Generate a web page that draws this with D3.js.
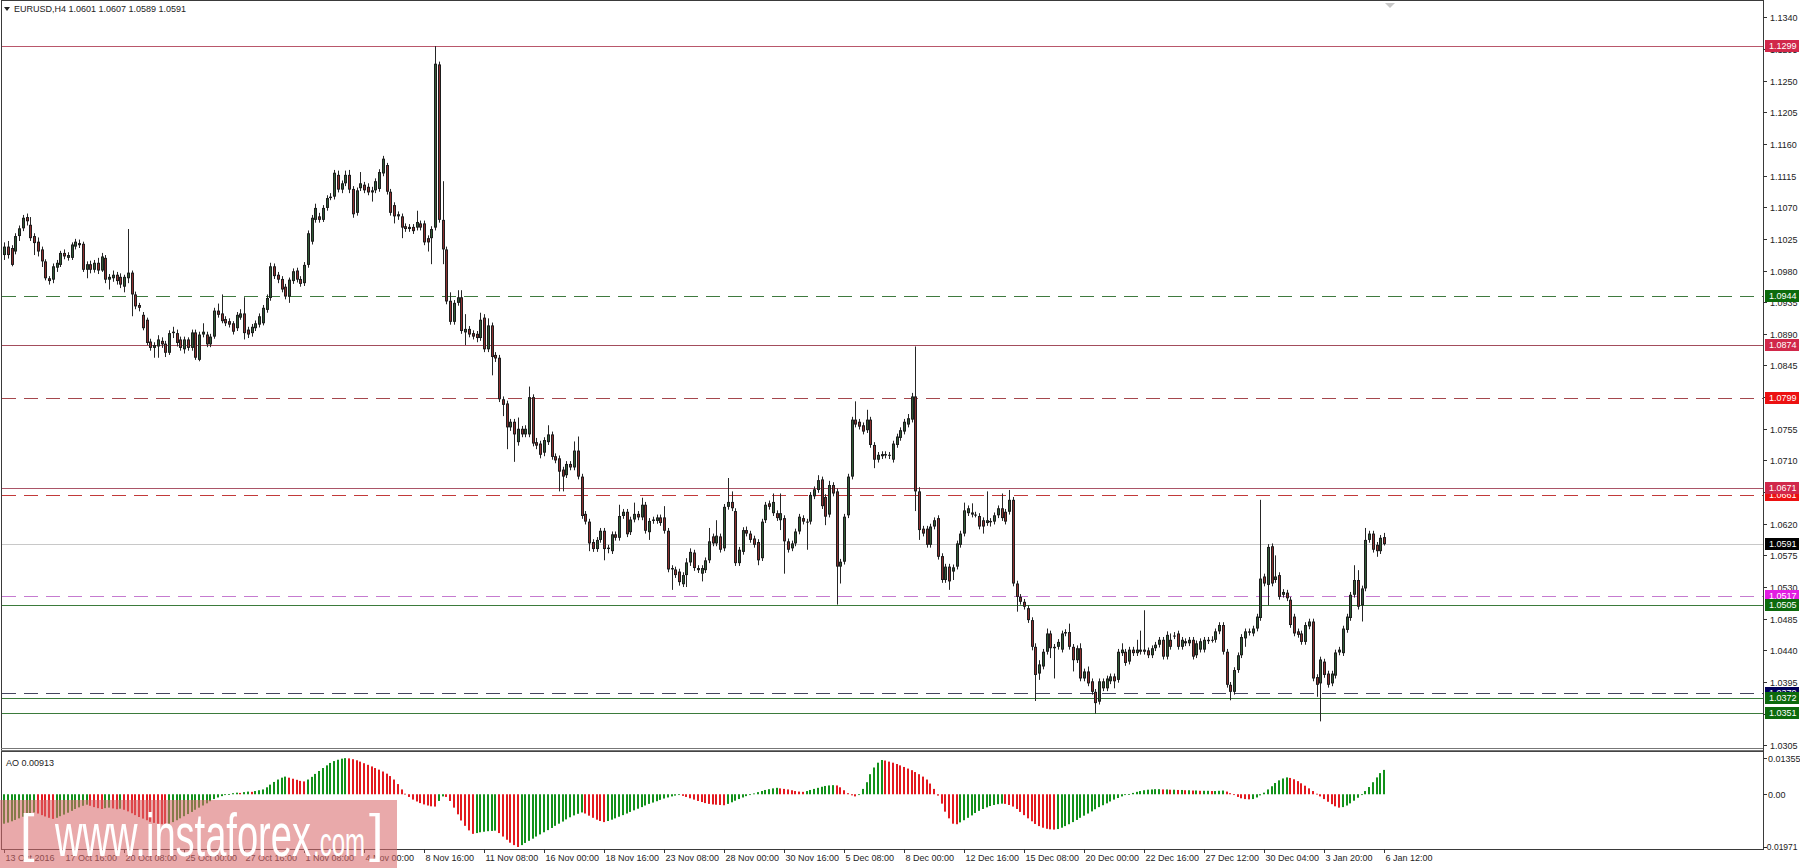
<!DOCTYPE html>
<html><head><meta charset="utf-8">
<script src="https://cdn.jsdelivr.net/npm/d3@7"></script>
<style>html,body{margin:0;padding:0;background:#fff;}svg{display:block;}</style>
</head><body>
<svg id="chart" width="1800" height="868"></svg>
<script>
// ---------------- DATA ----------------
const symbolTitle = "EURUSD,H4  1.0601 1.0607 1.0589 1.0591";
const aoTitle = "AO 0.00913";
// H4 candles: [open, high, low, close]
const candles = [
[1.1002,1.1020,1.0995,1.1014],[1.1014,1.1022,1.0997,1.1002],[1.1012,1.1016,1.0986,1.0988],[1.1007,1.1033,1.1003,1.1029],
[1.1029,1.1044,1.1022,1.1040],[1.1040,1.1059,1.1036,1.1055],[1.1056,1.1061,1.1044,1.1050],[1.1045,1.1056,1.1022,1.1026],
[1.1029,1.1033,1.1002,1.1019],[1.1021,1.1027,1.1000,1.1007],[1.1010,1.1014,1.0985,1.0993],[1.0993,1.0996,1.0966,1.0969],
[1.0969,1.0972,1.0960,1.0965],[1.0967,1.0990,1.0962,1.0986],[1.0984,1.0995,1.0978,1.0991],[1.0988,1.1008,1.0985,1.1005],
[1.1005,1.1010,1.0996,1.1000],[1.0998,1.1006,1.0994,1.1002],[1.0998,1.1020,1.0995,1.1017],[1.1014,1.1025,1.1010,1.1021],
[1.1019,1.1024,1.1012,1.1016],[1.1018,1.1021,1.0978,1.0981],[1.0981,1.0993,1.0969,1.0989],[1.0989,1.0994,1.0976,1.0981],
[1.0981,1.0995,1.0977,1.0991],[1.0991,1.0998,1.0975,1.0980],[1.0980,1.1005,1.0978,1.1000],[1.0998,1.1002,1.0962,1.0967],
[1.0967,1.0975,1.0953,1.0971],[1.0969,1.0980,1.0964,1.0974],[1.0974,1.0978,1.0960,1.0965],[1.0971,1.0976,1.0955,1.0960],
[1.0957,1.0974,1.0949,1.0971],[1.0969,1.1039,1.0962,1.0977],[1.0977,1.0980,1.0915,1.0946],[1.0946,1.0950,1.0925,1.0929],
[1.0931,1.0934,1.0922,1.0927],[1.0917,1.0921,1.0895,1.0898],[1.0910,1.0913,1.0874,1.0877],[1.0879,1.0883,1.0866,1.0870],
[1.0870,1.0878,1.0856,1.0874],[1.0872,1.0888,1.0856,1.0882],[1.0880,1.0885,1.0870,1.0875],[1.0876,1.0880,1.0857,1.0863],
[1.0863,1.0895,1.0860,1.0891],[1.0891,1.0900,1.0884,1.0893],[1.0891,1.0896,1.0872,1.0877],[1.0882,1.0886,1.0866,1.0870],
[1.0868,1.0886,1.0862,1.0882],[1.0882,1.0885,1.0866,1.0870],[1.0870,1.0896,1.0866,1.0892],[1.0892,1.0896,1.0853,1.0856],
[1.0853,1.0893,1.0851,1.0889],[1.0889,1.0905,1.0885,1.0893],[1.0889,1.0893,1.0871,1.0875],[1.0875,1.0890,1.0871,1.0886],
[1.0886,1.0927,1.0883,1.0923],[1.0923,1.0933,1.0913,1.0917],[1.0919,1.0946,1.0905,1.0908],[1.0911,1.0915,1.0901,1.0905],
[1.0908,1.0912,1.0899,1.0903],[1.0905,1.0908,1.0889,1.0893],[1.0898,1.0921,1.0894,1.0917],[1.0913,1.0925,1.0910,1.0919],
[1.0919,1.0942,1.0882,1.0891],[1.0896,1.0900,1.0884,1.0889],[1.0891,1.0904,1.0886,1.0900],[1.0898,1.0909,1.0894,1.0905],
[1.0903,1.0919,1.0899,1.0915],[1.0905,1.0931,1.0902,1.0927],[1.0924,1.0946,1.0920,1.0941],[1.0941,1.0991,1.0937,1.0986],
[1.0986,1.0990,1.0968,1.0972],[1.0974,1.0978,1.0962,1.0967],[1.0968,1.0972,1.0949,1.0953],[1.0957,1.0961,1.0939,1.0943],
[1.0943,1.0970,1.0934,1.0967],[1.0965,1.0983,1.0961,1.0979],[1.0980,1.0984,1.0963,1.0967],[1.0968,1.0972,1.0957,1.0961],
[1.0962,1.0992,1.0958,1.0988],[1.0988,1.1037,1.0984,1.1033],[1.1021,1.1059,1.1017,1.1055],[1.1052,1.1075,1.1048,1.1069],
[1.1057,1.1062,1.1048,1.1052],[1.1052,1.1073,1.1049,1.1069],[1.1069,1.1087,1.1065,1.1083],[1.1083,1.1090,1.1080,1.1085],
[1.1085,1.1123,1.1081,1.1119],[1.1116,1.1122,1.1091,1.1095],[1.1095,1.1108,1.1090,1.1104],[1.1104,1.1122,1.1100,1.1116],
[1.1116,1.1123,1.1090,1.1095],[1.1096,1.1100,1.1055,1.1060],[1.1062,1.1098,1.1058,1.1094],[1.1097,1.1120,1.1093,1.1104],
[1.1102,1.1106,1.1090,1.1094],[1.1099,1.1104,1.1087,1.1091],[1.1091,1.1099,1.1078,1.1094],
[1.1094,1.1111,1.1090,1.1107],[1.1096,1.1124,1.1092,1.1120],[1.1118,1.1143,1.1114,1.1139],[1.1130,1.1133,1.1088,1.1092],
[1.1092,1.1096,1.1058,1.1062],[1.1073,1.1077,1.1047,1.1057],[1.1060,1.1064,1.1052,1.1057],[1.1057,1.1061,1.1026,1.1041],
[1.1043,1.1047,1.1035,1.1039],[1.1039,1.1046,1.1035,1.1042],[1.1042,1.1046,1.1032,1.1036],[1.1041,1.1065,1.1037,1.1049],
[1.1047,1.1051,1.1037,1.1041],[1.1047,1.1051,1.1016,1.1020],[1.1026,1.1030,1.1007,1.1020],[1.1026,1.1043,1.0989,1.1039],
[1.1041,1.1299,1.1037,1.1274],[1.1273,1.1277,1.1048,1.1052],[1.1052,1.1107,1.0989,1.1010],[1.1010,1.1014,1.0932,1.0936],
[1.0937,1.0949,1.0903,1.0907],[1.0907,1.0938,1.0903,1.0934],[1.0934,1.0952,1.0930,1.0942],[1.0942,1.0952,1.0890,1.0894],
[1.0892,1.0918,1.0874,1.0897],[1.0897,1.0901,1.0885,1.0889],[1.0891,1.0895,1.0882,1.0886],[1.0890,1.0894,1.0878,1.0884],
[1.0884,1.0920,1.0880,1.0910],[1.0913,1.0918,1.0864,1.0868],[1.0868,1.0912,1.0864,1.0902],[1.0902,1.0906,1.0831,1.0857],
[1.0860,1.0864,1.0850,1.0855],[1.0856,1.0860,1.0793,1.0797],[1.0797,1.0801,1.0773,1.0789],[1.0791,1.0795,1.0726,1.0757],
[1.0757,1.0769,1.0752,1.0765],[1.0765,1.0769,1.0708,1.0747],[1.0736,1.0771,1.0731,1.0755],[1.0755,1.0759,1.0743,1.0747],
[1.0747,1.0760,1.0743,1.0755],[1.0747,1.0815,1.0743,1.0800],[1.0800,1.0804,1.0730,1.0734],[1.0736,1.0742,1.0726,1.0731],
[1.0734,1.0738,1.0713,1.0718],[1.0721,1.0743,1.0716,1.0739],[1.0736,1.0760,1.0732,1.0747],[1.0747,1.0751,1.0711,1.0715],
[1.0716,1.0720,1.0706,1.0710],[1.0713,1.0717,1.0666,1.0694],[1.0697,1.0701,1.0666,1.0687],[1.0689,1.0709,1.0685,1.0705],
[1.0705,1.0709,1.0696,1.0700],[1.0700,1.0737,1.0696,1.0724],[1.0724,1.0744,1.0683,1.0687],[1.0687,1.0691,1.0627,1.0631],
[1.0634,1.0638,1.0619,1.0623],[1.0623,1.0627,1.0581,1.0592],[1.0594,1.0598,1.0580,1.0584],[1.0584,1.0601,1.0580,1.0597],
[1.0597,1.0614,1.0593,1.0610],[1.0610,1.0614,1.0568,1.0584],[1.0586,1.0590,1.0578,1.0584],[1.0581,1.0609,1.0577,1.0605],
[1.0605,1.0609,1.0596,1.0600],[1.0600,1.0647,1.0596,1.0631],[1.0631,1.0641,1.0627,1.0637],[1.0637,1.0641,1.0601,1.0605],
[1.0608,1.0630,1.0604,1.0626],[1.0626,1.0650,1.0622,1.0634],[1.0634,1.0638,1.0625,1.0629],[1.0629,1.0657,1.0625,1.0647],
[1.0647,1.0651,1.0606,1.0610],[1.0608,1.0628,1.0597,1.0624],[1.0624,1.0630,1.0620,1.0626],[1.0624,1.0633,1.0620,1.0629],
[1.0629,1.0633,1.0617,1.0621],[1.0629,1.0645,1.0606,1.0610],[1.0610,1.0614,1.0551,1.0555],[1.0555,1.0561,1.0526,1.0557],
[1.0555,1.0559,1.0543,1.0547],[1.0552,1.0556,1.0532,1.0537],[1.0534,1.0551,1.0530,1.0547],[1.0547,1.0571,1.0530,1.0565],
[1.0565,1.0585,1.0560,1.0580],
[1.0579,1.0583,1.0553,1.0557],[1.0557,1.0561,1.0550,1.0554],[1.0549,1.0561,1.0538,1.0557],[1.0554,1.0572,1.0550,1.0568],
[1.0568,1.0614,1.0564,1.0595],[1.0602,1.0606,1.0588,1.0592],[1.0592,1.0625,1.0588,1.0603],[1.0602,1.0606,1.0579,1.0583],
[1.0585,1.0648,1.0581,1.0644],[1.0644,1.0685,1.0640,1.0651],[1.0651,1.0666,1.0638,1.0642],[1.0638,1.0642,1.0560,1.0564],
[1.0564,1.0587,1.0560,1.0583],[1.0580,1.0615,1.0576,1.0611],[1.0611,1.0616,1.0602,1.0606],[1.0606,1.0610,1.0593,1.0597],
[1.0599,1.0603,1.0586,1.0590],[1.0594,1.0598,1.0561,1.0568],[1.0571,1.0627,1.0567,1.0623],[1.0625,1.0651,1.0621,1.0647],
[1.0649,1.0653,1.0640,1.0644],[1.0635,1.0663,1.0631,1.0651],[1.0635,1.0639,1.0624,1.0628],[1.0625,1.0663,1.0611,1.0635],
[1.0628,1.0632,1.0549,1.0595],[1.0595,1.0599,1.0579,1.0583],[1.0585,1.0596,1.0581,1.0592],[1.0592,1.0613,1.0588,1.0609],
[1.0609,1.0634,1.0605,1.0630],[1.0628,1.0632,1.0619,1.0623],[1.0623,1.0627,1.0583,1.0623],[1.0623,1.0665,1.0619,1.0661],
[1.0659,1.0673,1.0655,1.0669],[1.0668,1.0689,1.0664,1.0682],[1.0683,1.0687,1.0641,1.0645],[1.0658,1.0662,1.0618,1.0630],
[1.0633,1.0681,1.0629,1.0675],[1.0675,1.0679,1.0659,1.0663],[1.0666,1.0670,1.0505,1.0559],[1.0559,1.0570,1.0535,1.0566],
[1.0566,1.0634,1.0562,1.0630],[1.0632,1.0691,1.0628,1.0687],[1.0687,1.0772,1.0683,1.0768],[1.0768,1.0794,1.0757,1.0761],
[1.0765,1.0769,1.0754,1.0758],[1.0760,1.0764,1.0747,1.0751],[1.0753,1.0782,1.0749,1.0768],[1.0768,1.0772,1.0728,1.0732],
[1.0732,1.0736,1.0699,1.0711],[1.0711,1.0722,1.0707,1.0718],[1.0716,1.0723,1.0712,1.0719],[1.0719,1.0723,1.0713,1.0717],
[1.0718,1.0722,1.0712,1.0718],[1.0711,1.0738,1.0707,1.0734],[1.0732,1.0748,1.0728,1.0744],[1.0742,1.0757,1.0738,1.0753],
[1.0751,1.0769,1.0747,1.0765],[1.0761,1.0776,1.0757,1.0770],[1.0768,1.0806,1.0764,1.0801],[1.0801,1.0872,1.0638,1.0666],
[1.0666,1.0672,1.0597,1.0611],[1.0613,1.0617,1.0602,1.0606],[1.0613,1.0617,1.0586,1.0590],[1.0590,1.0620,1.0586,1.0616],
[1.0616,1.0629,1.0612,1.0625],[1.0628,1.0632,1.0569,1.0573],[1.0574,1.0578,1.0536,1.0540],[1.0540,1.0563,1.0536,1.0559],
[1.0559,1.0563,1.0526,1.0538],[1.0552,1.0562,1.0540,1.0558],[1.0559,1.0596,1.0555,1.0592],[1.0590,1.0610,1.0586,1.0606],
[1.0606,1.0650,1.0602,1.0639],[1.0635,1.0646,1.0631,1.0642],[1.0636,1.0649,1.0629,1.0633],[1.0633,1.0637,1.0629,1.0633],
[1.0631,1.0635,1.0612,1.0616],[1.0625,1.0629,1.0606,1.0616],[1.0621,1.0666,1.0617,1.0625],[1.0624,1.0628,1.0616,1.0622],
[1.0623,1.0636,1.0619,1.0632],[1.0632,1.0646,1.0628,1.0642],[1.0642,1.0663,1.0624,1.0628],[1.0637,1.0641,1.0619,1.0623],
[1.0637,1.0668,1.0633,1.0654],[1.0654,1.0658,1.0531,1.0535],[1.0535,1.0539,1.0495,1.0516],[1.0516,1.0520,1.0505,1.0509],
[1.0509,1.0513,1.0498,1.0502],[1.0500,1.0504,1.0479,1.0483],[1.0483,1.0487,1.0440,1.0445],[1.0445,1.0450,1.0368,1.0405],
[1.0407,1.0426,1.0398,1.0420],[1.0417,1.0442,1.0413,1.0438],[1.0438,1.0471,1.0434,1.0464],[1.0464,1.0468,1.0429,1.0443],
[1.0443,1.0449,1.0400,1.0445],[1.0445,1.0456,1.0441,1.0452],[1.0441,1.0468,1.0437,1.0464],[1.0464,1.0470,1.0460,1.0466],
[1.0466,1.0478,1.0441,1.0445],[1.0445,1.0449,1.0410,1.0426],[1.0426,1.0447,1.0422,1.0443],[1.0443,1.0450,1.0396,1.0400],
[1.0400,1.0414,1.0396,1.0410],[1.0410,1.0417,1.0389,1.0393],[1.0396,1.0400,1.0377,1.0381],[1.0381,1.0385,1.0350,1.0365],
[1.0367,1.0400,1.0363,1.0396],[1.0386,1.0400,1.0382,1.0396],[1.0386,1.0404,1.0382,1.0400],[1.0396,1.0407,1.0392,1.0403],
[1.0403,1.0407,1.0386,1.0396],[1.0398,1.0442,1.0394,1.0438],[1.0436,1.0450,1.0432,1.0441],[1.0438,1.0442,1.0418,1.0422],
[1.0424,1.0445,1.0420,1.0441],[1.0441,1.0445,1.0432,1.0436],[1.0436,1.0455,1.0432,1.0441],[1.0438,1.0468,1.0434,1.0441],
[1.0441,1.0497,1.0434,1.0438],[1.0440,1.0444,1.0429,1.0433],[1.0433,1.0447,1.0429,1.0443],[1.0443,1.0452,1.0439,1.0448],
[1.0448,1.0459,1.0444,1.0455],[1.0455,1.0459,1.0427,1.0431],[1.0431,1.0467,1.0427,1.0462],[1.0455,1.0464,1.0441,1.0445],
[1.0461,1.0466,1.0456,1.0461],[1.0464,1.0468,1.0441,1.0445],[1.0445,1.0459,1.0441,1.0455],[1.0453,1.0457,1.0446,1.0450],
[1.0450,1.0459,1.0446,1.0455],[1.0455,1.0459,1.0427,1.0431],[1.0433,1.0454,1.0429,1.0450],[1.0441,1.0457,1.0437,1.0453],
[1.0441,1.0459,1.0437,1.0455],[1.0453,1.0459,1.0449,1.0455],[1.0455,1.0460,1.0451,1.0455],[1.0455,1.0471,1.0451,1.0467],
[1.0467,1.0480,1.0463,1.0476],[1.0476,1.0480,1.0434,1.0438],[1.0438,1.0442,1.0387,1.0391],[1.0391,1.0395,1.0369,1.0381],
[1.0381,1.0416,1.0377,1.0412],[1.0412,1.0437,1.0408,1.0433],[1.0433,1.0463,1.0429,1.0459],[1.0457,1.0471,1.0445,1.0467],
[1.0467,1.0471,1.0461,1.0465],[1.0464,1.0475,1.0460,1.0471],[1.0471,1.0492,1.0467,1.0488],[1.0486,1.0654,1.0482,1.0542],
[1.0545,1.0549,1.0531,1.0535],[1.0533,1.0591,1.0504,1.0587],[1.0588,1.0592,1.0531,1.0535],[1.0540,1.0575,1.0536,1.0545],
[1.0547,1.0551,1.0512,1.0516],[1.0519,1.0527,1.0515,1.0523],[1.0522,1.0526,1.0510,1.0514],[1.0512,1.0516,1.0472,1.0476],
[1.0488,1.0492,1.0460,1.0464],[1.0467,1.0471,1.0458,1.0462],[1.0464,1.0468,1.0448,1.0452],[1.0452,1.0480,1.0448,1.0476],
[1.0474,1.0485,1.0470,1.0481],[1.0481,1.0485,1.0396,1.0400],[1.0402,1.0406,1.0374,1.0391],[1.0393,1.0431,1.0339,1.0427],
[1.0424,1.0428,1.0401,1.0405],[1.0407,1.0411,1.0387,1.0391],[1.0393,1.0411,1.0389,1.0407],[1.0404,1.0441,1.0400,1.0437],
[1.0437,1.0445,1.0433,1.0441],[1.0436,1.0475,1.0432,1.0471],[1.0469,1.0492,1.0465,1.0488],[1.0486,1.0523,1.0482,1.0519],
[1.0519,1.0561,1.0515,1.0540],[1.0540,1.0554,1.0498,1.0502],[1.0504,1.0532,1.0481,1.0528],[1.0528,1.0614,1.0524,1.0597],
[1.0597,1.0610,1.0593,1.0606],[1.0606,1.0610,1.0579,1.0583],[1.0590,1.0594,1.0573,1.0581],[1.0581,1.0604,1.0577,1.0600],
[1.0601,1.0607,1.0589,1.0591]
];
// Awesome Oscillator, one value per candle
const aoValues = [
-0.0110,-0.0106,-0.0101,-0.0096,-0.0090,-0.0084,-0.0078,-0.0072,-0.0068,
-0.0072,-0.0078,-0.0083,-0.0088,-0.0092,
-0.0088,-0.0082,-0.0076,-0.0069,-0.0062,-0.0055,-0.0049,-0.0043,-0.0039,
-0.0043,-0.0048,-0.0052,-0.0055,
-0.0052,-0.0050,-0.0053,-0.0056,-0.0054,-0.0058,
-0.0064,-0.0071,-0.0078,-0.0085,-0.0091,-0.0097,-0.0103,-0.0107,-0.0110,-0.0112,-0.0113,
-0.0110,-0.0104,-0.0097,-0.0090,-0.0082,-0.0074,-0.0066,-0.0058,-0.0050,-0.0042,-0.0034,-0.0026,-0.0018,
-0.0012,-0.0007,-0.0003,0.0001,0.0004,0.0006,0.0005,0.0008,0.0010,0.0009,0.0012,0.0015,0.0018,
0.0026,0.0036,0.0046,0.0055,0.0062,0.0066,
0.0062,0.0058,0.0054,0.0050,0.0048,
0.0055,0.0065,0.0076,0.0087,0.0098,0.0108,0.0117,0.0124,0.0129,0.0133,0.0135,
0.0134,0.0131,0.0127,0.0122,0.0116,0.0110,0.0104,0.0098,0.0092,0.0085,0.0077,0.0068,0.0055,0.0038,0.0018,
0.0002,-0.0010,-0.0020,-0.0027,-0.0033,-0.0038,-0.0042,-0.0045,-0.0046,
-0.0025,-0.0008,-0.0010,
-0.0025,-0.0050,-0.0075,-0.0098,-0.0118,-0.0135,-0.0148,
-0.0145,-0.0142,-0.0140,-0.0138,-0.0137,-0.0136,
-0.0145,-0.0158,-0.0170,-0.0181,-0.0190,-0.0197,
-0.0190,-0.0182,-0.0174,-0.0166,-0.0158,-0.0150,-0.0142,-0.0134,-0.0126,-0.0118,-0.0110,-0.0102,-0.0094,-0.0086,-0.0079,-0.0073,-0.0068,
-0.0072,-0.0080,-0.0088,-0.0095,-0.0100,-0.0104,
-0.0100,-0.0095,-0.0090,-0.0084,-0.0078,-0.0072,-0.0066,-0.0060,-0.0054,-0.0048,-0.0042,-0.0036,-0.0031,-0.0026,-0.0021,-0.0016,-0.0012,-0.0008,-0.0005,-0.0002,
-0.0006,-0.0010,-0.0015,-0.0020,-0.0025,-0.0029,-0.0033,-0.0036,-0.0038,-0.0039,-0.0040,-0.0041,
-0.0036,-0.0030,-0.0024,-0.0018,-0.0012,-0.0007,-0.0002,0.0003,0.0008,0.0012,0.0016,0.0019,0.0022,0.0024,
0.0022,0.0020,0.0018,0.0015,0.0012,0.0010,0.0009,
0.0012,0.0016,0.0020,0.0024,0.0028,0.0031,0.0033,0.0034,0.0033,
0.0026,0.0015,0.0004,-0.0004,-0.0008,
0.0000,0.0020,0.0045,0.0075,0.0100,0.0118,0.0128,
0.0126,0.0122,0.0118,0.0113,0.0108,0.0102,0.0096,0.0090,0.0083,0.0075,0.0066,0.0055,
0.0040,0.0020,-0.0005,-0.0035,-0.0065,-0.0090,-0.0110,
-0.0112,-0.0105,-0.0097,-0.0088,-0.0079,-0.0070,-0.0062,-0.0055,-0.0049,-0.0044,-0.0040,-0.0037,-0.0035,
-0.0036,-0.0040,-0.0046,-0.0055,-0.0066,-0.0078,-0.0090,-0.0101,-0.0111,-0.0119,-0.0125,-0.0129,-0.0131,-0.0132,-0.0130,
-0.0125,-0.0119,-0.0112,-0.0104,-0.0096,-0.0088,-0.0080,-0.0072,-0.0064,-0.0056,-0.0048,-0.0041,-0.0034,-0.0027,-0.0020,-0.0014,-0.0008,-0.0003,0.0001,
0.0005,0.0009,0.0012,0.0015,0.0017,0.0018,0.0019,0.0019,0.0018,0.0018,0.0017,0.0017,0.0016,0.0016,0.0015,0.0015,0.0014,0.0014,0.0013,0.0013,0.0013,0.0012,0.0012,0.0013,0.0014,
0.0010,0.0004,-0.0003,-0.0010,-0.0015,-0.0018,-0.0019,-0.0018,
-0.0012,-0.0004,0.0006,0.0018,0.0030,0.0042,0.0052,0.0059,0.0063,
0.0061,0.0056,0.0049,0.0041,0.0032,0.0022,0.0012,0.0002,-0.0008,-0.0018,-0.0028,-0.0037,-0.0045,-0.0050,
-0.0048,-0.0042,-0.0034,-0.0024,-0.0013,-0.0001,0.0012,0.0027,0.0045,0.0063,0.0079,0.0091
];
const priceTicks = [1.1340,1.1295,1.1250,1.1205,1.1160,1.1115,1.1070,1.1025,1.0980,1.0935,1.0890,1.0845,1.0800,1.0755,1.0710,1.0665,1.0620,1.0575,1.0530,1.0485,1.0440,1.0395,1.0350,1.0305];
const aoTicks = [0.01355, 0.00, -0.01971];
const aoTickLabels = ["0.01355", "0.00", "-0.01971"];
const timeLabels = ["13 Oct 2016","17 Oct 16:00","20 Oct 08:00","25 Oct 00:00","27 Oct 16:00","1 Nov 08:00","4 Nov 00:00","8 Nov 16:00","11 Nov 08:00","16 Nov 00:00","18 Nov 16:00","23 Nov 08:00","28 Nov 00:00","30 Nov 16:00","5 Dec 08:00","8 Dec 00:00","12 Dec 16:00","15 Dec 08:00","20 Dec 00:00","22 Dec 16:00","27 Dec 12:00","30 Dec 04:00","3 Jan 20:00","6 Jan 12:00"];
const barsPerLabel = 16;
// horizontal levels (drawing order)
const levelPrices = [1.1299, 1.0944, 1.0874, 1.0799, 1.0661, 1.0671, 1.0591, 1.0517, 1.0505, 1.0379, 1.0372, 1.0351];
const levelDashed = [false, true, false, true, true, false, false, true, false, true, false, false];
const levelLineColors = ["#b9576b","#3f7a3f","#a34d5c","#a5474d","#c23a3a","#ab5567","#c8c8c8","#c57bd0","#3b7b3b","#45455f","#3b7b3b","#3b7b3b"];
const levelBoxColors = ["#d1284a","#0c6a0c","#d1284a","#ec1111","#ec1111","#d1284a","#000000","#e21de2","#0c6a0c","#00005a","#0c6a0c","#0c6a0c"];

// ---------------- LAYOUT ----------------
const svg = d3.select("#chart");
const plotL = 2, plotR = 1763, mainTop = 1, mainBot = 748, aoTop = 752, aoBot = 849;
const font = "'Liberation Sans', Arial, sans-serif";

const x = d3.scaleLinear().domain([0, candles.length - 1]).range([4, 4 + 3.75 * (candles.length - 1)]);
const y = d3.scaleLinear().domain([1.0305, 1.1340]).range([745.3, 17.3]);
const yAO = d3.scaleLinear().domain([-0.01971, 0.01355]).range([847, 758]);

svg.append("rect").attr("width", 1800).attr("height", 868).attr("fill", "#fff");

// level lines
const lv = svg.append("g");
levelPrices.forEach((p, i) => {
  lv.append("line").attr("x1", plotL).attr("x2", plotR)
    .attr("y1", Math.round(y(p)) + 0.5).attr("y2", Math.round(y(p)) + 0.5)
    .attr("stroke", levelLineColors[i]).attr("stroke-width", 1)
    .attr("stroke-dasharray", levelDashed[i] ? "14,8" : null);
});

// candles
const cg = svg.append("g");
candles.forEach((d, i) => {
  const [o, h, l, c] = d;
  const cx = Math.round(x(i));
  cg.append("line").attr("x1", cx + 0.5).attr("x2", cx + 0.5)
    .attr("y1", y(h)).attr("y2", y(l)).attr("stroke", "#262626").attr("stroke-width", 1);
  const top = Math.min(y(o), y(c)), bot = Math.max(y(o), y(c));
  const hgt = Math.max(1, bot - top);
  const bull = c >= o;
  cg.append("rect").attr("x", cx - 1).attr("y", top).attr("width", 3).attr("height", hgt)
    .attr("fill", "#1d1d1d");
  if (hgt > 2) {
    cg.append("rect").attr("x", cx).attr("y", top + 1).attr("width", 1).attr("height", hgt - 2)
      .attr("fill", bull ? "#2f5a35" : "#8c2f2f");
  }
});

// AO histogram
const ag = svg.append("g");
aoValues.forEach((v, i) => {
  const up = i === 0 ? true : v >= aoValues[i - 1];
  const y0 = yAO(0), y1 = yAO(v);
  ag.append("rect").attr("x", Math.round(x(i)) - 1).attr("width", 2)
    .attr("y", Math.min(y0, y1)).attr("height", Math.max(0.8, Math.abs(y1 - y0)))
    .attr("fill", up ? "#12911a" : "#e3191f");
});

// frames
const fr = svg.append("g").attr("stroke", "#3a3a3a").attr("fill", "none");
fr.append("line").attr("x1", 1.5).attr("x2", 1.5).attr("y1", 0).attr("y2", aoBot);
fr.append("line").attr("x1", plotR + 0.5).attr("x2", plotR + 0.5).attr("y1", 0).attr("y2", aoBot);
fr.append("line").attr("x1", 1).attr("x2", plotR).attr("y1", 0.5).attr("y2", 0.5);
fr.append("line").attr("x1", 1).attr("x2", plotR).attr("y1", mainBot + 0.5).attr("y2", mainBot + 0.5).attr("stroke", "#777");
fr.append("line").attr("x1", 1).attr("x2", plotR).attr("y1", mainBot + 2.5).attr("y2", mainBot + 2.5).attr("stroke", "#777");
fr.append("line").attr("x1", 1).attr("x2", plotR).attr("y1", aoTop - 0.5).attr("y2", aoTop - 0.5).attr("stroke", "#444");
fr.append("line").attr("x1", 1).attr("x2", plotR + 1).attr("y1", aoBot + 0.5).attr("y2", aoBot + 0.5);

// right price axis
const ax = svg.append("g").attr("font-family", font).attr("font-size", 9).attr("fill", "#222");
priceTicks.forEach(p => {
  const yy = Math.round(y(p)) + 0.5;
  ax.append("line").attr("x1", plotR).attr("x2", plotR + 4).attr("y1", yy).attr("y2", yy).attr("stroke", "#333");
  ax.append("text").attr("x", plotR + 7).attr("y", yy).attr("dy", "0.35em").text(p.toFixed(4));
});
aoTicks.forEach((v, i) => {
  const yy = Math.round(yAO(v)) + 0.5;
  ax.append("line").attr("x1", plotR).attr("x2", plotR + 4).attr("y1", yy).attr("y2", yy).attr("stroke", "#333");
  ax.append("text").attr("x", plotR + (v < 0 ? 1 : 5)).attr("y", yy).attr("dy", "0.35em")
    .attr("font-size", v < 0 ? 8.5 : 9).text(aoTickLabels[i]);
});

// level boxes on price axis
levelPrices.forEach((p, i) => {
  const yy = Math.round(y(p));
  ax.append("rect").attr("x", plotR + 2).attr("y", yy - 6).attr("width", 34).attr("height", 12)
    .attr("fill", levelBoxColors[i]);
  ax.append("text").attr("x", plotR + 6).attr("y", yy).attr("dy", "0.35em").attr("fill", "#fff").text(p.toFixed(4));
});

// time axis
const tx = svg.append("g").attr("font-family", font).attr("font-size", 9).attr("fill", "#222");
timeLabels.forEach((t, k) => {
  const xx = Math.round(x(k * barsPerLabel)) + 0.5;
  tx.append("line").attr("x1", xx).attr("x2", xx).attr("y1", aoBot).attr("y2", aoBot + 4).attr("stroke", "#333");
  tx.append("text").attr("x", xx + 1).attr("y", 861).text(t);
});

// titles
svg.append("path").attr("d", "M4,7 L10,7 L7,11 Z").attr("fill", "#222");
svg.append("text").attr("x", 14).attr("y", 12).attr("font-family", font).attr("font-size", 9).attr("fill", "#222").text(symbolTitle);
svg.append("text").attr("x", 6).attr("y", 766).attr("font-family", font).attr("font-size", 9).attr("fill", "#222").text(aoTitle);
// chart shift marker
svg.append("path").attr("d", "M1385,3 L1395,3 L1390,8 Z").attr("fill", "#c8c8c8");

// watermark
const wm = svg.append("g");
wm.append("rect").attr("x", 0).attr("y", 800).attr("width", 397).attr("height", 68).attr("fill", "#d96a6c").attr("opacity", 0.58);
const wf = "'Liberation Sans Narrow', 'Liberation Sans', Arial, sans-serif";
wm.append("text").attr("x", 20).attr("y", 851).attr("font-family", wf).attr("font-size", 52).attr("fill", "#fff").text("[");
wm.append("text").attr("x", 55).attr("y", 856).attr("font-family", wf).attr("font-size", 62).attr("fill", "#fff")
  .attr("textLength", 256).attr("lengthAdjust", "spacingAndGlyphs").text("www.instaforex");
wm.append("text").attr("x", 313).attr("y", 856).attr("font-family", wf).attr("font-size", 40).attr("fill", "#fff")
  .attr("textLength", 52).attr("lengthAdjust", "spacingAndGlyphs").text(".com");
wm.append("text").attr("x", 369).attr("y", 851).attr("font-family", wf).attr("font-size", 52).attr("fill", "#fff").text("]");
</script>
</body></html>
